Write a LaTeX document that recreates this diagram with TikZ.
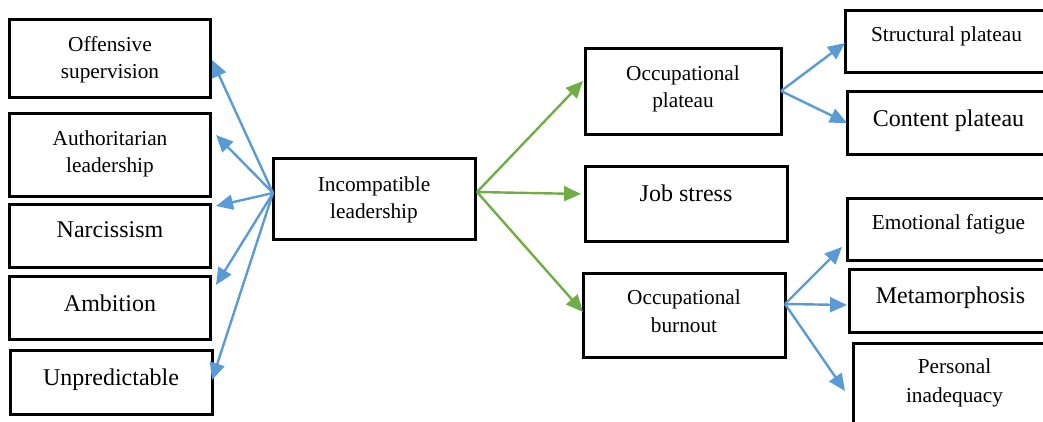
\documentclass[tikz,border=0pt]{standalone}
\usepackage{fontspec}
\setmainfont{Liberation Serif}
\usetikzlibrary{arrows.meta}
\definecolor{linkblue}{HTML}{5B9BD5}
\definecolor{linkgreen}{HTML}{70AD47}
\begin{document}
\begin{tikzpicture}[x=1pt,y=-1pt,
  box/.style={draw=black, line width=3pt, inner sep=0pt, fill=white},
  small/.style={anchor=base, inner sep=0pt, font=\fontsize{21.3}{27.5}\selectfont},
  large/.style={anchor=base, inner sep=0pt, font=\fontsize{24}{28}\selectfont},
  bluearrow/.style={draw=linkblue, line width=2.4pt, -{Triangle[length=17pt,width=15pt]}},
  greenarrow/.style={draw=linkgreen, line width=2.4pt, -{Triangle[length=17pt,width=15pt]}}]
\useasboundingbox (0,0) rectangle (1043,422);
\clip (0,0) rectangle (1043,422);

% boxes
\node[box, minimum width=201pt, minimum height=78pt] (off) at (109.5,59) {};
\node[box, minimum width=201pt, minimum height=82pt] (aut) at (109.5,155) {};
\node[box, minimum width=201pt, minimum height=63pt] (nar) at (109.5,235.5) {};
\node[box, minimum width=201pt, minimum height=63pt] (amb) at (109.5,307.5) {};
\node[box, minimum width=202pt, minimum height=64pt] (unp) at (111,382) {};
\node[box, minimum width=202pt, minimum height=80pt] (inc) at (374,199) {};
\node[box, minimum width=196pt, minimum height=86pt] (opl) at (683,92) {};
\node[box, minimum width=202pt, minimum height=74pt] (job) at (686,204) {};
\node[box, minimum width=202pt, minimum height=84pt] (obu) at (684,315) {};
\node[box, minimum width=203pt, minimum height=62pt] (str) at (946.5,42) {};
\node[box, minimum width=203pt, minimum height=63pt] (con) at (948.5,123.5) {};
\node[box, minimum width=203pt, minimum height=62pt] (emo) at (948.5,229) {};
\node[box, minimum width=203pt, minimum height=63pt] (met) at (950.5,300.5) {};
\node[box, minimum width=203pt, minimum height=97pt] (per) at (954.5,391.5) {};

% labels
\node[small] (offA) at (110,52) {Offensive};
\node[small] (offB) at (110,79) {supervision};
\node[small] (autA) at (110,146) {Authoritarian};
\node[small] (autB) at (110,173) {leadership};
\node[large] (narT) at (110,237) {Narcissism};
\node[large] (ambT) at (110,311) {Ambition};
\node[large] (unpT) at (111,385) {Unpredictable};
\node[small] (incA) at (374,191) {Incompatible};
\node[small] (incB) at (374,218) {leadership};
\node[small] (oplA) at (683,81) {Occupational};
\node[small] (oplB) at (683,108) {plateau};
\node[large] (jobT) at (686,201) {Job stress};
\node[small] (obuA) at (684,304) {Occupational};
\node[small] (obuB) at (684,332) {burnout};
\node[small] (strT) at (946.5,42) {Structural plateau};
\node[large] (conT) at (948.5,127) {Content plateau};
\node[small] (emoT) at (948.5,229) {Emotional fatigue};
\node[large] (metT) at (950.5,303) {Metamorphosis};
\node[small] (perA) at (954.5,373) {Personal};
\node[small] (perB) at (954.5,402) {inadequacy};

% connector ends
\coordinate (incL) at (273,193);
\coordinate (incR) at (477,192);
\coordinate (oplR) at (781,91);
\coordinate (obuR) at (785,304);
\coordinate (toOff) at (212,60);
\coordinate (toAut) at (216,135);
\coordinate (toNar) at (216,206);
\coordinate (toAmb) at (216,285);
\coordinate (toUnp) at (212,380);
\coordinate (toOpl) at (583,81);
\coordinate (toJob) at (581,194);
\coordinate (toObu) at (583,312);
\coordinate (toStr) at (845,43);
\coordinate (toCon) at (847,123);
\coordinate (toEmo) at (842,247);
\coordinate (toMet) at (847,305);
\coordinate (toPer) at (845,391);

% connectors
\draw[bluearrow] (incL) -- (toOff);
\draw[bluearrow] (incL) -- (toAut);
\draw[bluearrow] (incL) -- (toNar);
\draw[bluearrow] (incL) -- (toAmb);
\draw[bluearrow] (incL) -- (toUnp);
\draw[greenarrow] (incR) -- (toOpl);
\draw[greenarrow] (incR) -- (toJob);
\draw[greenarrow] (incR) -- (toObu);
\draw[bluearrow] (oplR) -- (toStr);
\draw[bluearrow] (oplR) -- (toCon);
\draw[bluearrow] (obuR) -- (toEmo);
\draw[bluearrow] (obuR) -- (toMet);
\draw[bluearrow] (obuR) -- (toPer);
\end{tikzpicture}
\end{document}
